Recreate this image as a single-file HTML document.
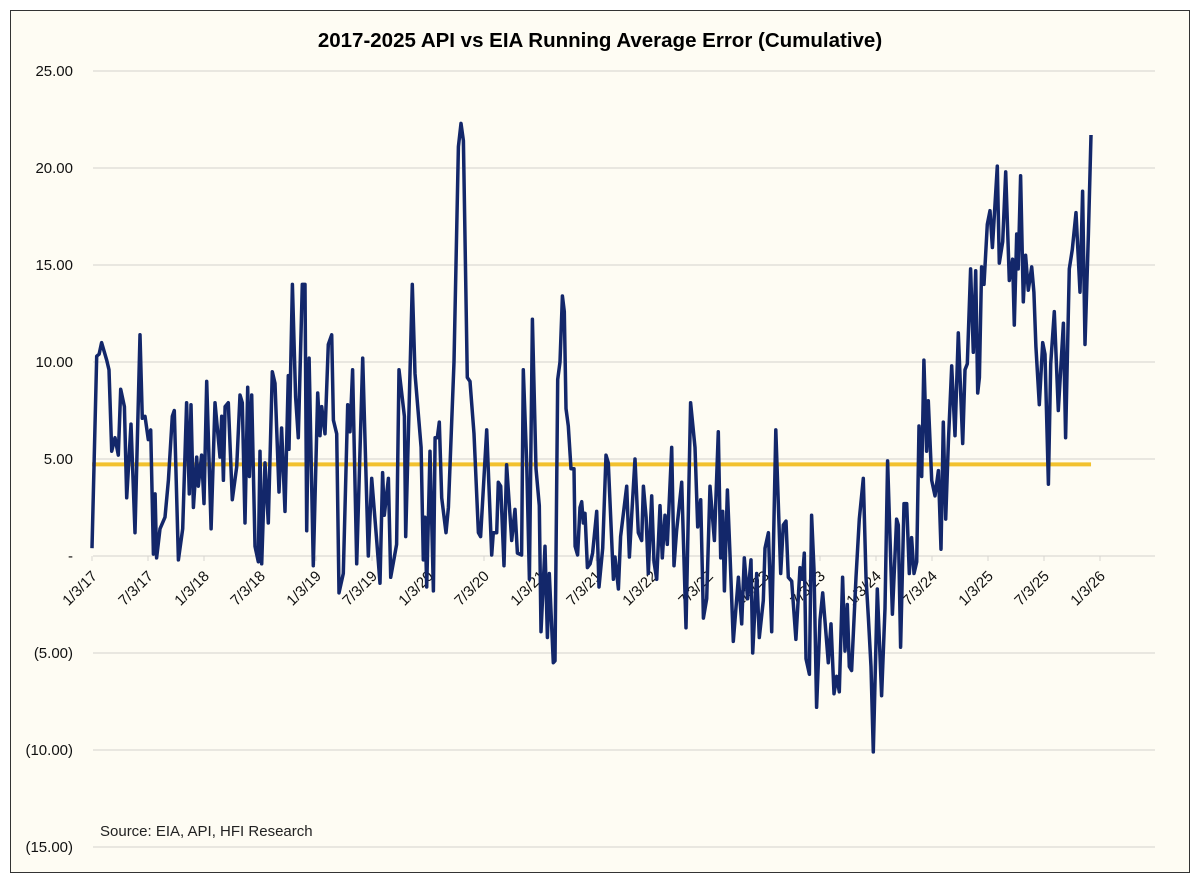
<!DOCTYPE html>
<html><head><meta charset="utf-8"><style>
html,body{margin:0;padding:0;background:#fff;}
svg{display:block;font-family:"Liberation Sans",sans-serif;}
</style></head><body>
<svg id="chart" width="1200" height="883" viewBox="0 0 1200 883">
<rect x="10.5" y="10.5" width="1179" height="862" fill="#fefcf3" stroke="#333" stroke-width="1"/>
<text x="600" y="47" text-anchor="middle" font-size="20.5" font-weight="bold" fill="#000">2017-2025 API vs EIA Running Average Error (Cumulative)</text>
<g id="grid"></g><g id="ylabels"></g><g id="xticks"></g><g id="series"></g>
<text x="100" y="836" font-size="15" fill="#222">Source: EIA, API, HFI Research</text>
</svg>
<script>
const yTicks=[25,20,15,10,5,0,-5,-10,-15];
const yTickLabels=["25.00","20.00","15.00","10.00","5.00","-","(5.00)","(10.00)","(15.00)"];
const xTickLabels=["1/3/17","7/3/17","1/3/18","7/3/18","1/3/19","7/3/19","1/3/20","7/3/20","1/3/21","7/3/21","1/3/22","7/3/22","1/3/23","7/3/23","1/3/24","7/3/24","1/3/25","7/3/25","1/3/26"];
const averageError=4.72;
const times=[0,0.042,0.063,0.086,0.131,0.152,0.176,0.205,0.235,0.256,0.289,0.31,0.348,0.384,0.429,0.449,0.473,0.503,0.524,0.548,0.563,0.577,0.607,0.652,0.682,0.717,0.735,0.771,0.81,0.845,0.869,0.884,0.905,0.935,0.949,0.979,1.0,1.024,1.063,1.098,1.143,1.158,1.173,1.188,1.217,1.253,1.292,1.321,1.342,1.366,1.39,1.405,1.426,1.455,1.485,1.5,1.515,1.545,1.574,1.61,1.634,1.67,1.693,1.723,1.753,1.759,1.789,1.818,1.842,1.878,1.902,1.917,1.938,1.976,2.015,2.036,2.051,2.08,2.11,2.14,2.155,2.185,2.205,2.244,2.283,2.304,2.327,2.363,2.417,2.467,2.497,2.542,2.571,2.595,2.61,2.646,2.667,2.72,2.741,2.789,2.801,2.86,2.884,2.938,2.958,2.973,2.988,
3.018,3.048,3.063,3.083,3.101,3.122,3.161,3.182,3.232,3.271,3.295,3.316,3.351,3.375,3.411,3.45,3.47,3.524,3.569,3.583,3.613,3.628,3.649,3.679,3.702,3.747,3.777,3.798,3.836,3.851,3.881,3.905,3.932,3.964,3.994,4.009,4.045,4.066,4.083,4.119,4.134,4.158,4.179,4.2,4.217,4.232,4.253,4.277,4.304,4.313,4.336,4.357,4.372,4.387,4.402,4.423,4.447,4.47,4.506,4.527,4.56,4.589,4.61,4.655,4.67,4.7,4.72,4.774,4.798,4.819,4.848,4.878,4.908,4.923,4.947,4.967,4.997,5.018,5.042,5.071,5.092,5.116,5.137,5.176,5.196,5.22,5.265,5.304,5.345,5.384,5.408,5.435,5.459,5.488,5.518,5.557,5.592,5.613,5.631,5.646,5.673,5.697,5.726,5.771,5.801,5.824,5.854,5.884,5.899,5.935,5.958,5.994,6.009,6.039,6.069,6.105,
6.149,6.172,6.196,6.217,6.247,6.285,6.321,6.342,6.36,6.375,6.405,6.425,6.446,6.47,6.5,6.524,6.544,6.574,6.598,6.625,6.649,6.672,6.702,6.723,6.744,6.762,6.782,6.821,6.851,6.887,6.911,6.932,6.955,6.976,7.012,7.05,7.08,7.104,7.146,7.184,7.199,7.22,7.25,7.274,7.297,7.318,7.339,7.363,7.384,7.408,7.428,7.452,7.467,7.497,7.527,7.557,7.58,7.601,7.622,7.646,7.676,7.705,7.735,7.774,7.795,7.815,7.845,7.869,7.89,7.908,7.923,7.943,7.964,7.994,8.018,8.039,8.083,8.101,8.131,8.158,8.19,8.22,8.235,8.256,8.27,8.291,8.315,8.336,8.36,8.39,8.41,8.428,8.458,8.488,8.509,8.539,8.56,8.592,8.628,8.673,8.693,8.726,8.753,8.786,8.821,8.845,8.866,8.896,8.92];
const errorValues=[0.4,10.3,10.4,11.0,10.1,9.6,5.4,6.1,5.2,8.6,7.7,3.0,6.8,1.2,11.4,7.1,7.2,6.0,6.5,0.1,3.2,-0.1,1.4,2.0,3.9,7.2,7.5,-0.2,1.4,7.9,3.2,7.8,2.5,5.1,3.6,5.2,2.7,9.0,1.4,7.9,5.1,7.2,3.9,7.7,7.9,2.9,4.6,8.3,7.9,1.7,8.7,4.1,8.3,0.5,-0.3,5.4,-0.4,4.8,1.7,9.5,8.9,3.3,6.6,2.3,9.3,5.5,14.0,8.2,6.1,14.0,14.0,1.3,10.2,-0.5,8.4,6.2,7.7,6.3,10.9,11.4,7.0,6.3,-1.9,-0.9,7.8,6.4,9.6,-0.4,10.2,0.0,4.0,0.8,-1.4,4.3,2.1,4.0,-1.1,0.6,9.6,7.2,1.0,14.0,9.4,5.6,-0.2,2.0,-1.6,
5.4,-1.8,6.1,6.1,6.9,3.0,1.2,2.5,10.0,21.1,22.3,21.4,9.2,9.0,6.3,1.2,1.0,6.5,0.05,1.2,1.2,3.8,3.6,-0.5,4.7,0.8,2.4,0.15,0.05,9.6,4.8,-1.2,12.2,4.5,2.6,-3.9,0.5,-4.2,-0.9,-5.5,-5.4,9.1,10.0,13.4,12.6,7.6,6.7,4.5,4.5,0.5,0.05,2.5,2.8,1.7,2.2,-0.6,-0.4,0.15,2.3,-1.6,0.4,5.2,4.8,-1.2,-0.05,-1.7,1.0,3.6,-0.05,2.1,5.0,1.2,0.8,3.6,2.0,-0.9,3.1,-0.3,-1.2,2.6,-0.1,2.1,0.6,5.6,-0.5,1.3,3.8,-3.7,7.9,5.6,1.5,2.9,-3.2,-2.2,3.6,0.8,6.4,-0.1,2.3,-1.8,3.4,-0.05,-4.4,-1.1,-3.5,-0.1,-2.2,-0.2,-5.0,-0.9,-4.2,-2.3,0.4,1.2,-3.9,6.5,
-0.9,1.6,1.8,-1.1,-1.3,-4.3,-0.6,-1.2,0.15,-5.3,-6.1,2.1,-0.7,-7.8,-3.3,-1.9,-3.3,-5.5,-3.5,-7.1,-6.2,-7.0,-1.1,-4.9,-2.5,-5.7,-5.9,-1.1,1.9,4.0,-1.1,-3.2,-5.7,-10.1,-1.7,-7.2,-2.7,4.9,-3.0,1.9,1.6,-4.7,2.7,2.7,-0.9,0.95,-0.9,-0.3,6.7,4.1,10.1,5.4,8.0,3.9,3.1,4.4,0.35,6.9,1.9,5.9,9.8,6.2,11.5,5.8,9.6,9.9,14.8,10.5,14.7,8.4,9.2,14.9,14.0,17.1,17.8,15.9,20.1,15.1,16.2,19.8,14.2,15.3,11.9,16.6,14.8,19.6,13.1,15.5,13.7,14.9,13.6,10.8,7.8,11.0,10.4,3.7,9.9,12.6,7.5,12.0,6.1,14.8,15.8,17.7,13.6,18.8,10.9,16.6,21.7];

const NS="http://www.w3.org/2000/svg";
const X0=92, PX_PER_YEAR=112, Y0=556, PX_PER_UNIT=19.4, GRID_L=93, GRID_R=1155;
function xScale(t){return X0+t*PX_PER_YEAR;}
function yScale(v){return Y0-v*PX_PER_UNIT;}
function mk(tag,attrs,parent){const e=document.createElementNS(NS,tag);for(const k in attrs)e.setAttribute(k,attrs[k]);parent.appendChild(e);return e;}

const grid=document.getElementById('grid'), yl=document.getElementById('ylabels');
yTicks.forEach((v,i)=>{
  const ln=mk('line',{x1:GRID_L,x2:GRID_R,y1:yScale(v),y2:yScale(v),stroke:'#e2e0da','stroke-width':1.5},grid);
  
  
  const tx=mk('text',{x:73,y:yScale(v)+5,'text-anchor':'end','font-size':15,fill:'#111'},yl);
  tx.textContent=yTickLabels[i];
  
  
});
const xt=document.getElementById('xticks');
xTickLabels.forEach((lab,i)=>{
  const x=xScale(i*0.5);
  const tk=mk('line',{x1:x,x2:x,y1:Y0,y2:Y0+5,stroke:'#d8d6d0','stroke-width':1},xt);
  
  
  const ax=x+6, ay=Y0+21;
  const tx=mk('text',{x:ax,y:ay,'text-anchor':'end','font-size':15,fill:'#111',transform:`rotate(-45 ${ax} ${ay})`},xt);
  tx.textContent=lab;
  
  
});
const sg=document.getElementById('series');
const avg=mk('line',{x1:xScale(0),x2:xScale(8.92),y1:yScale(averageError),y2:yScale(averageError),stroke:'#f2c12e','stroke-width':4},sg);


const d=times.map((t,i)=>(i?'L':'M')+xScale(t).toFixed(1)+','+yScale(errorValues[i]).toFixed(1)).join('');
const p=mk('path',{d:d,fill:'none',stroke:'#13276a','stroke-width':3.5,'stroke-linejoin':'round'},sg);


</script>
</body></html>
